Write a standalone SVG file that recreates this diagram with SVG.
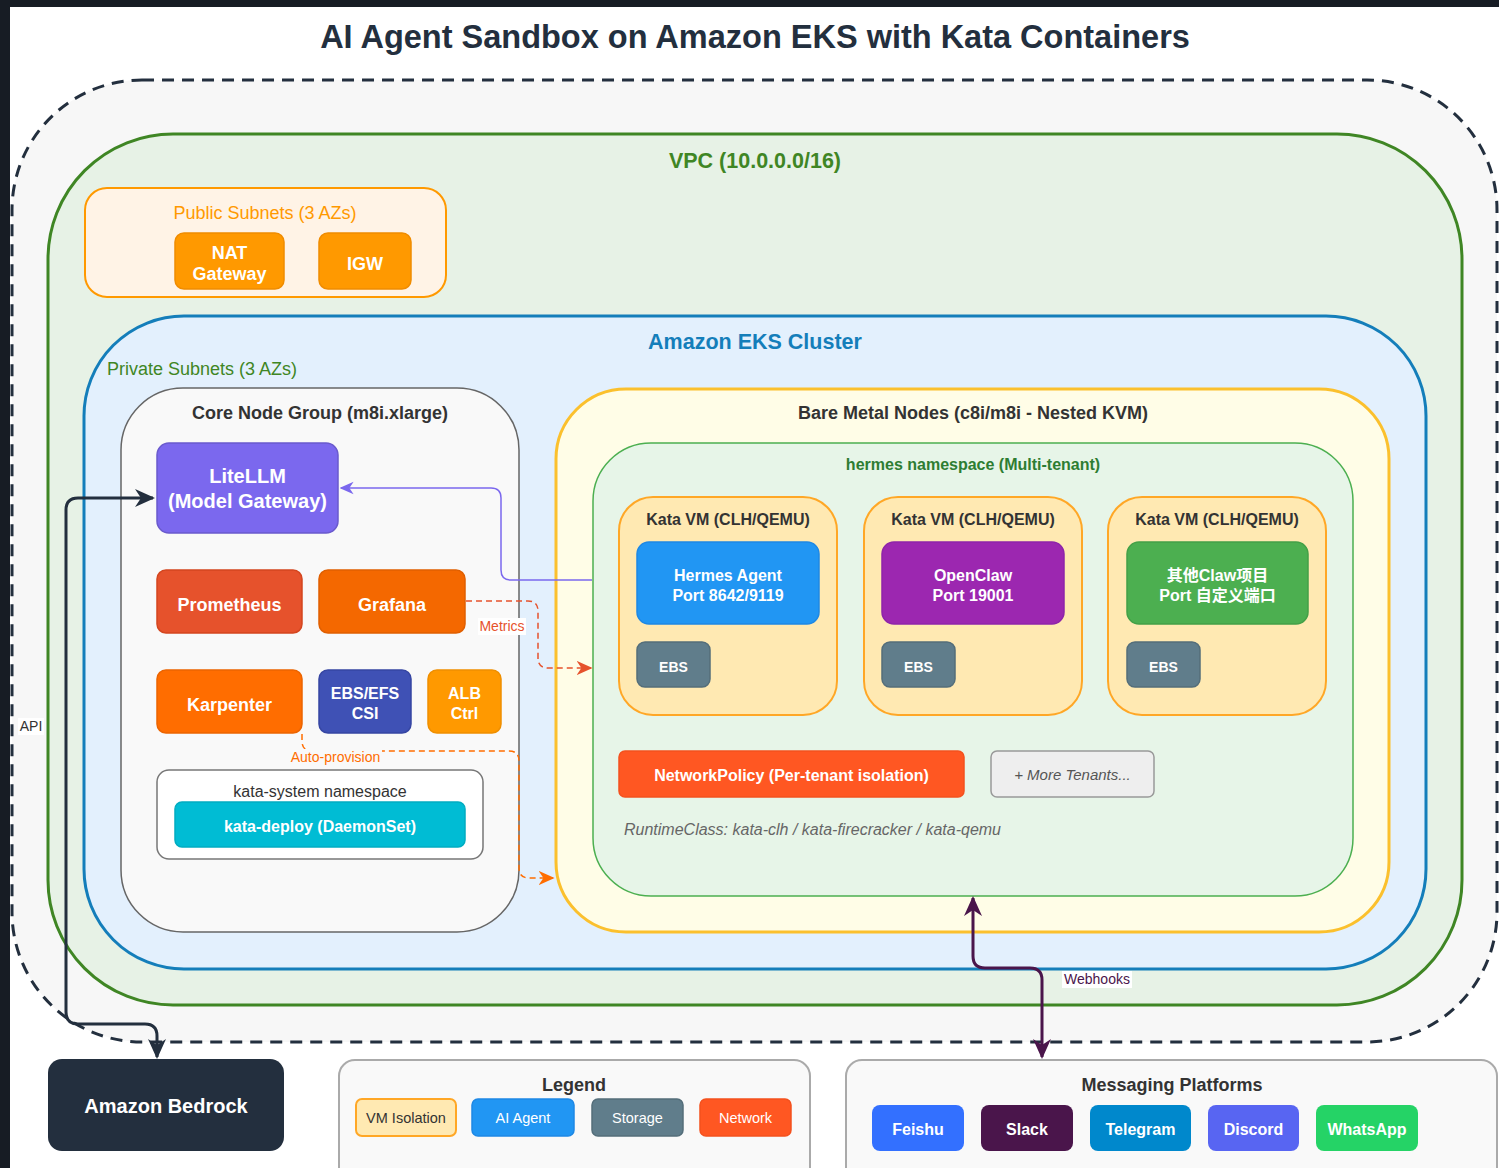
<svg xmlns="http://www.w3.org/2000/svg" width="1499" height="1168" viewBox="0 0 1499 1168">
<style>
text{font-family:"Liberation Sans",Arial,"Noto Sans CJK SC",sans-serif}
.c{text-anchor:middle}
.b{font-weight:bold}
.w{fill:#fff}
.dk{fill:#333}
.box{stroke-width:1.5}
.lbl{font-size:14px}
</style>
<defs>
<marker id="aDark" markerUnits="userSpaceOnUse" viewBox="0 0 20 20" markerWidth="20" markerHeight="20" refX="18" refY="10" orient="auto-start-reverse"><path d="M0,1 L20,10 L0,19 L6,10 Z" fill="#232f3e"/></marker>
<marker id="aWeb" markerUnits="userSpaceOnUse" viewBox="0 0 20 20" markerWidth="20" markerHeight="20" refX="18" refY="10" orient="auto-start-reverse"><path d="M0,1 L20,10 L0,19 L6,10 Z" fill="#4a154b"/></marker>
<marker id="aPur" markerUnits="userSpaceOnUse" viewBox="0 0 20 20" markerWidth="14" markerHeight="14" refX="18" refY="10" orient="auto"><path d="M0,1 L20,10 L0,19 L6,10 Z" fill="#7b68ee"/></marker>
<marker id="aRed" markerUnits="userSpaceOnUse" viewBox="0 0 20 20" markerWidth="16" markerHeight="16" refX="18" refY="10" orient="auto"><path d="M0,1 L20,10 L0,19 L6,10 Z" fill="#e6522c"/></marker>
<marker id="aOr" markerUnits="userSpaceOnUse" viewBox="0 0 20 20" markerWidth="16" markerHeight="16" refX="18" refY="10" orient="auto"><path d="M0,1 L20,10 L0,19 L6,10 Z" fill="#ff6d00"/></marker>
</defs>
<rect x="0" y="0" width="1499" height="1168" fill="#ffffff"/>
<rect x="0" y="0" width="1499" height="7" fill="#171c24"/>
<rect x="0" y="0" width="10" height="1168" fill="#171c24"/>

<text class="c b" x="755" y="48" font-size="32.5" fill="#232f3e">AI Agent Sandbox on Amazon EKS with Kata Containers</text>

<g id="aws-cloud">
<rect x="12" y="80" width="1485" height="962" rx="130" fill="#f7f7f7" stroke="#232f3e" stroke-width="3" stroke-dasharray="12 8"/>
</g>
<g id="vpc">
<rect x="48" y="134" width="1414" height="871" rx="125" fill="#e7f2e6" stroke="#3f8624" stroke-width="3"/>
<text class="c b" x="755" y="168" font-size="21.5" fill="#3f8624">VPC (10.0.0.0/16)</text>
</g>
<g id="public-subnets">
<rect x="85" y="188" width="361" height="109" rx="22" fill="#fff3e6" stroke="#ff9900" stroke-width="2"/>
<text class="c" x="265" y="219" font-size="18" fill="#ff9900">Public Subnets (3 AZs)</text>
</g>
<g id="nat-gateway">
<rect x="175" y="233" width="109" height="56" rx="9" fill="#ff9900" stroke="#f08c00" class="box"/>
<text class="c b w" x="229.5" y="259" font-size="18">NAT</text>
<text class="c b w" x="229.5" y="280" font-size="18">Gateway</text>
</g>
<g id="igw">
<rect x="319" y="233" width="92" height="56" rx="9" fill="#ff9900" stroke="#f08c00" class="box"/>
<text class="c b w" x="365" y="270" font-size="18">IGW</text>
</g>
<g id="eks-cluster">
<rect x="84" y="316" width="1342" height="653" rx="100" fill="#e3f0fd" stroke="#147eba" stroke-width="3"/>
<text class="c b" x="755" y="349" font-size="21.5" fill="#147eba">Amazon EKS Cluster</text>
<text x="107" y="375" font-size="18" fill="#3f8624">Private Subnets (3 AZs)</text>
</g>
<g id="core-node-group">
<rect x="121" y="388" width="398" height="544" rx="62" fill="#f9f9f9" stroke="#666" stroke-width="1.5"/>
<text class="c b dk" x="320" y="419" font-size="18">Core Node Group (m8i.xlarge)</text>
</g>
<g id="litellm">
<rect x="157" y="443" width="181" height="90" rx="12" fill="#7b68ee" stroke="#6a5acd" class="box"/>
<text class="c b w" x="247.5" y="483" font-size="20">LiteLLM</text>
<text class="c b w" x="247.5" y="508" font-size="20">(Model Gateway)</text>
</g>
<g id="prometheus">
<rect x="157" y="570" width="145" height="63" rx="9" fill="#e6522c" stroke="#d4461f" class="box"/>
<text class="c b w" x="229.5" y="611" font-size="18">Prometheus</text>
</g>
<g id="grafana">
<rect x="319" y="570" width="146" height="63" rx="9" fill="#f46800" stroke="#e05f00" class="box"/>
<text class="c b w" x="392" y="611" font-size="18">Grafana</text>
</g>
<g id="karpenter">
<rect x="157" y="670" width="145" height="63" rx="9" fill="#ff6d00" stroke="#ec6400" class="box"/>
<text class="c b w" x="229.5" y="711" font-size="18">Karpenter</text>
</g>
<g id="ebs-efs-csi">
<rect x="319" y="670" width="92" height="63" rx="9" fill="#3f51b5" stroke="#3646a3" class="box"/>
<text class="c b w" x="365" y="699" font-size="16">EBS/EFS</text>
<text class="c b w" x="365" y="719" font-size="16">CSI</text>
</g>
<g id="alb-ctrl">
<rect x="428" y="670" width="73" height="63" rx="9" fill="#ff9900" stroke="#ef8f00" class="box"/>
<text class="c b w" x="464.5" y="699" font-size="16">ALB</text>
<text class="c b w" x="464.5" y="719" font-size="16">Ctrl</text>
</g>
<g id="kata-system">
<rect x="157" y="770" width="326" height="89" rx="12" fill="#ffffff" stroke="#777" stroke-width="1.5"/>
<text class="c dk" x="320" y="797" font-size="16">kata-system namespace</text>
</g>
<g id="kata-deploy">
<rect x="175" y="802" width="290" height="45" rx="7" fill="#00bcd4" stroke="#00acc1" class="box"/>
<text class="c b w" x="320" y="832" font-size="16">kata-deploy (DaemonSet)</text>
</g>
<g id="bare-metal-nodes">
<rect x="556" y="389" width="833" height="543" rx="70" fill="#fffde7" stroke="#fbc02d" stroke-width="3"/>
<text class="c b dk" x="973" y="419" font-size="18">Bare Metal Nodes (c8i/m8i - Nested KVM)</text>
</g>
<g id="hermes-namespace">
<rect x="593" y="443" width="760" height="453" rx="58" fill="#e7f5e8" stroke="#4caf50" stroke-width="1.5"/>
<text class="c b" x="973" y="470" font-size="16" fill="#2e7d32">hermes namespace (Multi-tenant)</text>
</g>
<g id="kata-vm-1">
<rect x="619" y="497" width="218" height="218" rx="34" fill="#ffe9b2" stroke="#ffa726" stroke-width="2"/>
<text class="c b dk" x="728" y="525" font-size="16">Kata VM (CLH/QEMU)</text>
</g>
<g id="hermes-agent">
<rect x="637" y="542" width="182" height="82" rx="12" fill="#2196f3" stroke="#1e88e5" class="box"/>
<text class="c b w" x="728" y="581" font-size="16">Hermes Agent</text>
<text class="c b w" x="728" y="601" font-size="16">Port 8642/9119</text>
</g>
<g id="ebs-1">
<rect x="637" y="642" width="73" height="45" rx="8" fill="#607d8b" stroke="#546e7a" class="box"/>
<text class="c b w" x="673.5" y="672" font-size="14">EBS</text>
</g>
<g id="kata-vm-2">
<rect x="864" y="497" width="218" height="218" rx="34" fill="#ffe9b2" stroke="#ffa726" stroke-width="2"/>
<text class="c b dk" x="973" y="525" font-size="16">Kata VM (CLH/QEMU)</text>
</g>
<g id="openclaw">
<rect x="882" y="542" width="182" height="82" rx="12" fill="#9c27b0" stroke="#8e24aa" class="box"/>
<text class="c b w" x="973" y="581" font-size="16">OpenClaw</text>
<text class="c b w" x="973" y="601" font-size="16">Port 19001</text>
</g>
<g id="ebs-2">
<rect x="882" y="642" width="73" height="45" rx="8" fill="#607d8b" stroke="#546e7a" class="box"/>
<text class="c b w" x="918.5" y="672" font-size="14">EBS</text>
</g>
<g id="kata-vm-3">
<rect x="1108" y="497" width="218" height="218" rx="34" fill="#ffe9b2" stroke="#ffa726" stroke-width="2"/>
<text class="c b dk" x="1217" y="525" font-size="16">Kata VM (CLH/QEMU)</text>
</g>
<g id="other-claw">
<rect x="1127" y="542" width="181" height="82" rx="12" fill="#4caf50" stroke="#43a047" class="box"/>
<text class="c b w" x="1217.5" y="581" font-size="16">其他Claw项目</text>
<text class="c b w" x="1217.5" y="601" font-size="16">Port 自定义端口</text>
</g>
<g id="ebs-3">
<rect x="1127" y="642" width="73" height="45" rx="8" fill="#607d8b" stroke="#546e7a" class="box"/>
<text class="c b w" x="1163.5" y="672" font-size="14">EBS</text>
</g>
<g id="network-policy">
<rect x="619" y="751" width="345" height="46" rx="6" fill="#ff5722" stroke="#f4511e" class="box"/>
<text class="c b w" x="791.5" y="781" font-size="16">NetworkPolicy (Per-tenant isolation)</text>
</g>
<g id="more-tenants">
<rect x="991" y="751" width="163" height="46" rx="6" fill="#eeeeee" stroke="#999" class="box"/>
<text class="c" x="1072.5" y="780" font-size="15" font-style="italic" fill="#555">+ More Tenants...</text>
</g>
<text x="624" y="835" font-size="16" font-style="italic" fill="#666">RuntimeClass: kata-clh / kata-firecracker / kata-qemu</text>

<g id="amazon-bedrock">
<rect x="48" y="1059" width="236" height="92" rx="14" fill="#232f3e"/>
<text class="c b w" x="166" y="1113" font-size="20">Amazon Bedrock</text>
</g>
<g id="legend">
<rect x="339" y="1060" width="471" height="130" rx="16" fill="#f9f9f9" stroke="#aaa" stroke-width="2"/>
<text class="c b dk" x="574" y="1091" font-size="18">Legend</text>
<rect x="356" y="1099" width="100" height="37" rx="6" fill="#ffe9b2" stroke="#ffa726" stroke-width="2"/>
<text class="c dk" x="406" y="1123" font-size="14.5">VM Isolation</text>
<rect x="472" y="1099" width="102" height="37" rx="6" fill="#2196f3" stroke="#1e88e5" class="box"/>
<text class="c w" x="523" y="1123" font-size="14.5">AI Agent</text>
<rect x="592" y="1099" width="91" height="37" rx="6" fill="#607d8b" stroke="#546e7a" class="box"/>
<text class="c w" x="637.5" y="1123" font-size="14.5">Storage</text>
<rect x="700" y="1099" width="91" height="37" rx="6" fill="#ff5722" stroke="#f4511e" class="box"/>
<text class="c w" x="745.5" y="1123" font-size="14.5">Network</text>
</g>
<g id="messaging-platforms">
<rect x="846" y="1060" width="651" height="130" rx="16" fill="#f9f9f9" stroke="#aaa" stroke-width="2"/>
<text class="c b dk" x="1172" y="1091" font-size="18">Messaging Platforms</text>
</g>
<g id="feishu">
<rect x="872" y="1105" width="92" height="46" rx="8" fill="#3370ff"/>
<text class="c b w" x="918" y="1135" font-size="16">Feishu</text>
</g>
<g id="slack">
<rect x="981" y="1105" width="92" height="46" rx="8" fill="#4a154b"/>
<text class="c b w" x="1027" y="1135" font-size="16">Slack</text>
</g>
<g id="telegram">
<rect x="1090" y="1105" width="101" height="46" rx="8" fill="#0088cc"/>
<text class="c b w" x="1140.5" y="1135" font-size="16">Telegram</text>
</g>
<g id="discord">
<rect x="1208" y="1105" width="91" height="46" rx="8" fill="#5865f2"/>
<text class="c b w" x="1253.5" y="1135" font-size="16">Discord</text>
</g>
<g id="whatsapp">
<rect x="1316" y="1105" width="102" height="46" rx="8" fill="#25d366"/>
<text class="c b w" x="1367" y="1135" font-size="16">WhatsApp</text>
</g>

<g id="connectors" fill="none">
<path d="M592,580 L511,580 Q501,580 501,570 L501,498 Q501,488 491,488 L341,488" stroke="#7b68ee" stroke-width="1.5" marker-end="url(#aPur)"/>
<path d="M466,601 L528,601 Q538,601 538,611 L538,658 Q538,668 548,668 L591,668" stroke="#e6522c" stroke-width="1.5" stroke-dasharray="6 4" marker-end="url(#aRed)"/>
<path d="M302,734 L302,741 Q302,751 312,751 L509,751 Q519,751 519,761 L519,868 Q519,878 529,878 L553,878" stroke="#ff6d00" stroke-width="1.5" stroke-dasharray="6 4" marker-end="url(#aOr)"/>
<path d="M153,498 L78,498 Q66,498 66,510 L66,1012 Q66,1024 78,1024 L145,1024 Q157,1024 157,1036 L157,1057" stroke="#232f3e" stroke-width="3" marker-start="url(#aDark)" marker-end="url(#aDark)"/>
<path d="M973,898 L973,956 Q973,968 985,968 L1030,968 Q1042,968 1042,980 L1042,1057" stroke="#4a154b" stroke-width="3" marker-start="url(#aWeb)" marker-end="url(#aWeb)"/>
<rect x="478" y="618" width="48" height="17" fill="#ffffff"/>
<text x="502" y="631" class="c lbl" fill="#e6522c">Metrics</text>
<rect x="289" y="749" width="93" height="17" fill="#f9f9f9"/>
<text x="335.5" y="762" class="c lbl" fill="#ff6d00">Auto-provision</text>
<rect x="18" y="718" width="26" height="17" fill="#ffffff"/>
<text x="31" y="731" class="c lbl" fill="#333">API</text>
<rect x="1062" y="971" width="70" height="17" fill="#ffffff"/>
<text x="1097" y="984" class="c lbl" fill="#4a154b">Webhooks</text>
</g>
</svg>
